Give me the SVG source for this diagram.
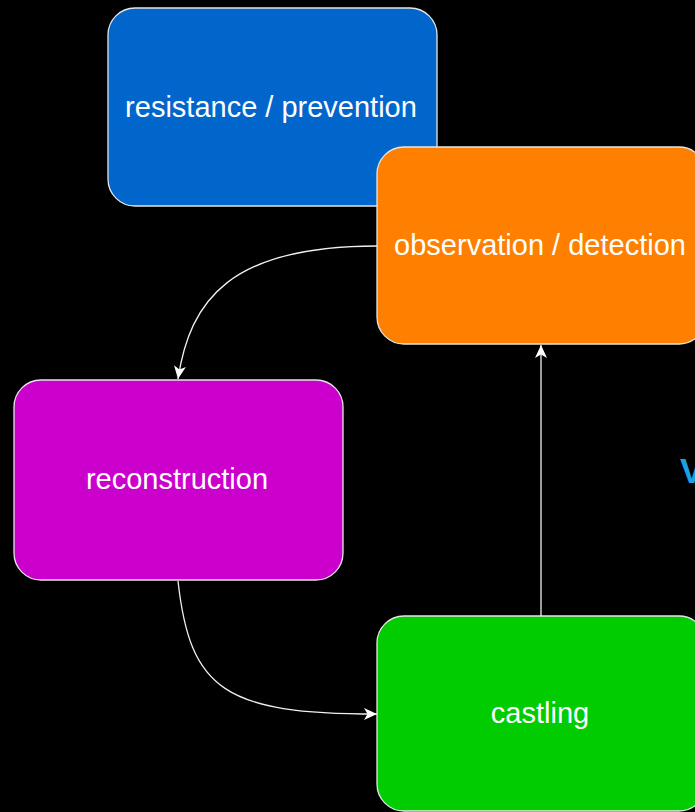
<svg xmlns="http://www.w3.org/2000/svg" width="695" height="812" viewBox="0 0 695 812">
  <defs>
    <style>
      .box { stroke: #e6e6e6; stroke-width: 1.3; }
      .label { font-family: "Liberation Sans", Arial, sans-serif; font-size: 29px; fill: #ffffff; text-anchor: middle; }
      .edge { fill: none; stroke: #f0f0f0; stroke-width: 1.3; }
    </style>
    <!-- classic notched arrowhead -->
    <marker id="arrow" markerUnits="userSpaceOnUse" viewBox="0 0 14 12" markerWidth="14" markerHeight="12" refX="13" refY="6" orient="auto">
      <path d="M0,0 L13,6 L0,12 L3.5,6 Z" fill="#ffffff"/>
    </marker>
  </defs>

  <rect width="695" height="812" fill="#000000"/>

  <g id="node-resistance">
    <rect class="box" x="108" y="8" width="329" height="198" rx="27" fill="#0066cc"/>
    <text class="label" x="271" y="117">resistance / prevention</text>
  </g>

  <g id="node-observation">
    <rect class="box" x="377" y="147" width="329" height="197" rx="27" fill="#ff8000"/>
    <text class="label" x="540" y="255">observation / detection</text>
  </g>

  <g id="node-reconstruction">
    <rect class="box" x="14" y="380" width="329" height="200" rx="27" fill="#cc00cc"/>
    <text class="label" x="177" y="489">reconstruction</text>
  </g>

  <g id="node-castling">
    <rect class="box" x="377" y="616" width="329" height="195" rx="27" fill="#00cc00"/>
    <text class="label" x="540" y="723">castling</text>
  </g>

  <g id="node-v">
    <text x="680" y="483" font-family="'Liberation Sans', Arial, sans-serif" font-size="35" font-weight="bold" fill="#1ba1e2">V</text>
  </g>

  <g id="connectors">
    <path class="edge" d="M377,246 C230,246 190,300 178,379" marker-end="url(#arrow)"/>
    <path class="edge" d="M178,581 C190,690 225,714 377,714" marker-end="url(#arrow)"/>
    <path class="edge" d="M541,616 L541,345" marker-end="url(#arrow)"/>
  </g>
</svg>
